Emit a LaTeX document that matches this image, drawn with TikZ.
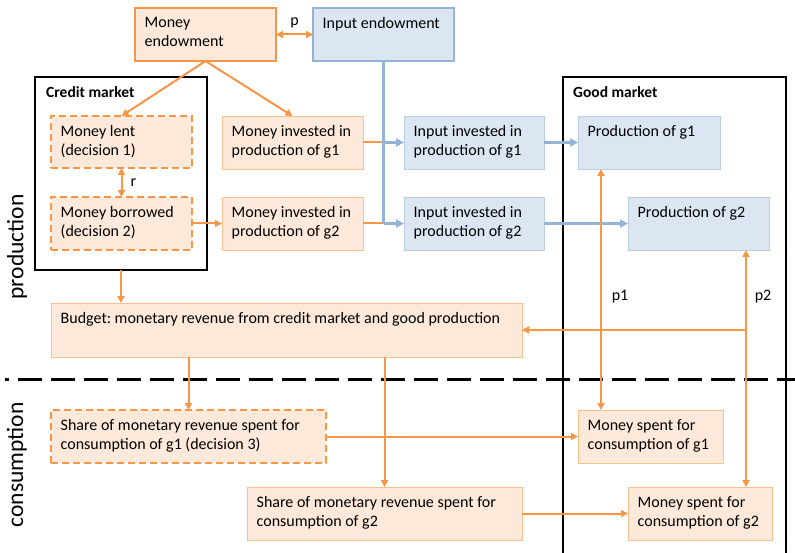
\documentclass[tikz,border=0pt]{standalone}
\usepackage{fontspec}
\setmainfont{Carlito}
\usetikzlibrary{arrows.meta,calc}
\definecolor{org}{HTML}{F79646}
\definecolor{orgfill}{HTML}{FDE9D9}
\definecolor{orglt}{HTML}{FAC090}
\definecolor{blu}{HTML}{95B3D7}
\definecolor{blufill}{HTML}{DCE6F2}
\definecolor{blult}{HTML}{B9CDE5}
\frenchspacing
\newcommand\mybx[7]{%
  \node[#6, minimum width=#4-#2, minimum height=#5-#3] (#1) at (#2,#3) {};
  \node[txt] (#1-t) at ($(#1.north west)+(9.5,9)$) {#7};}
\begin{document}
\begin{tikzpicture}[x=1pt,y=-1pt,
  box/.style={rectangle, inner sep=0, outer sep=0, anchor=north west},
  obox/.style={box, draw=orglt, fill=orgfill, line width=0.9pt},
  obold/.style={box, draw=org, fill=orgfill, line width=2.2pt},
  odash/.style={box, draw=org, fill=orgfill, line width=2.2pt, dash pattern=on 7pt off 4pt},
  bbox/.style={box, draw=blult, fill=blufill, line width=0.9pt},
  bbold/.style={box, draw=blu, fill=blufill, line width=2.2pt},
  txt/.style={anchor=north west, inner sep=0, align=left, font=\fontsize{16}{19.2}\selectfont},
  lab/.style={inner sep=0, font=\fontsize{16}{19}\selectfont},
  mlab/.style={anchor=north west, inner sep=0, font=\bfseries\fontsize{15.5}{18}\selectfont},
  side/.style={inner sep=0, rotate=90, font=\fontsize{23.5}{28}\selectfont},
  oline/.style={draw=org, line width=2pt},
  oarr/.style={oline, -{Triangle[length=7pt,width=7pt]}},
  odarr/.style={oline, {Triangle[length=7pt,width=7pt]}-{Triangle[length=7pt,width=7pt]}},
  bline/.style={draw=blu, line width=2.5pt},
  barr/.style={bline, -{Triangle[length=8pt,width=8pt]}},
  mkt/.style={draw=black, line width=2.5pt}]
\useasboundingbox (0,0) rectangle (795,553);

% markets
\node[box, draw=black, line width=2.5pt, minimum width=172, minimum height=193] (cm) at (35,77) {};
\node[mlab] (cm-t) at ($(cm.north west)+(11,9)$) {Credit market};
\draw[mkt] (563,553) -- (563,77) -- (786,77) -- (786,553);
\node[mlab] (gm-t) at (573,86) {Good market};

% dashed separator
\draw[line width=3pt, dash pattern=on 24pt off 9pt, dash phase=20pt] (5,379) -- (795,379);

% side labels
\node[side] (prod) at (17,247) {production};
\node[side] (cons) at (17,465) {consumption};

% boxes
\mybx{me}{135}{8}{276}{61}{obold}{Money\\endowment}
\mybx{ie}{313}{8}{454}{61}{bbold}{Input endowment}
\mybx{ml}{51}{116}{192}{168}{odash}{Money lent\\(decision 1)}
\mybx{mb}{51}{197}{192}{250}{odash}{Money borrowed\\(decision 2)}
\mybx{mi1}{222}{116}{363}{169}{obox}{Money invested in\\production of g1}
\mybx{mi2}{222}{197}{363}{250}{obox}{Money invested in\\production of g2}
\mybx{ii1}{404}{116}{544}{169}{bbox}{Input invested in\\production of g1}
\mybx{ii2}{404}{197}{544}{250}{bbox}{Input invested in\\production of g2}
\mybx{pg1}{578}{116}{720}{169}{bbox}{Production of g1}
\mybx{pg2}{628}{197}{769}{250}{bbox}{Production of g2}
\mybx{bud}{51}{303}{522}{357}{obox}{Budget: monetary revenue from credit market and good production}
\mybx{sh1}{51}{410}{326}{463}{odash}{Share of monetary revenue spent for\\consumption of g1 (decision 3)}
\mybx{sh2}{247}{487}{522}{540}{obox}{Share of monetary revenue spent for\\consumption of g2}
\mybx{ms1}{578}{410}{723}{463}{obox}{Money spent for\\consumption of g1}
\mybx{ms2}{628}{487}{772}{540}{obox}{Money spent for\\consumption of g2}

\coordinate (p1x) at (601,0);
\coordinate (p2x) at (746,0);

% connectors
\draw[odarr] (me.east) -- (ie.west) node[lab, midway, above=5pt] (p-l) {p};
\draw[oarr] (me.south) -- (ml.north);
\draw[oarr] (me.south) -- (mi1.north);
\draw[odarr] (ml.south) -- (mb.north) node[lab, midway, right=8pt] (r-l) {r};
\draw[oarr] (mb.east) -- (mi2.west);
\draw[oline] (mi1.east) -- (ie.south |- mi1.east);
\draw[oline] (mi2.east) -- (ie.south |- mi2.east);
\draw[bline] (ie.south) -- (ie.south |- mi2.east);
\draw[barr] (ie.south |- mi1.east) -- (ii1.west);
\draw[barr] (ie.south |- mi2.east) -- (ii2.west);
\draw[barr] (ii1.east) -- (pg1.west);
\draw[barr] (ii2.east) -- (pg2.west);
\draw[oarr] (cm.south) -- (bud.north -| cm.south);
\draw[odarr] (pg1.south -| p1x) -- (ms1.north -| p1x);
\draw[odarr] (pg2.south -| p2x) -- (ms2.north -| p2x);
\node[lab] (p1-l) at (620,297) {p1};
\node[lab] (p2-l) at (763,297) {p2};
\draw[oarr] (bud.east -| p2x) -- (bud.east);
\draw[oarr] (bud.south -| sh1.north) -- (sh1.north);
\draw[oarr] (bud.south -| sh2.north) -- (sh2.north);
\draw[oarr] (sh1.east) -- (ms1.west);
\draw[oarr] (sh2.east) -- (ms2.west);
\end{tikzpicture}
\end{document}
